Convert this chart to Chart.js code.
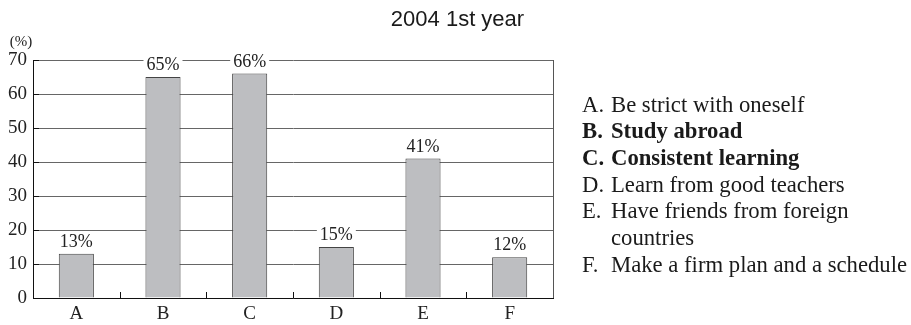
<!DOCTYPE html>
<html>
<head>
<meta charset="utf-8">
<script src="https://cdn.jsdelivr.net/npm/chart.js@4/dist/chart.umd.min.js"></script>
<style>
  html, body { margin: 0; padding: 0; background: #fff; }
  #wrap { width: 911px; height: 325px; position: relative; }
</style>
</head>
<body>
<div id="wrap"><canvas id="c" width="911" height="325"></canvas></div>
<script>
// Survey categories and their shares (%)
const categories = ['A', 'B', 'C', 'D', 'E', 'F'];
const shares = [13, 65, 66, 15, 41, 12];
const yTicks = [0, 10, 20, 30, 40, 50, 60, 70];
const chartTitle = '2004 1st year';

// Key shown to the right of the plot
const keyLetters = ['A.', 'B.', 'C.', 'D.', 'E.', 'F.'];
const keyTexts = [
  ['Be strict with oneself'],
  ['Study abroad'],
  ['Consistent learning'],
  ['Learn from good teachers'],
  ['Have friends from foreign', 'countries'],
  ['Make a firm plan and a schedule']
];
const keyBold = [false, true, true, false, false, false];

const SERIF = '"Liberation Serif", "Times New Roman", serif';
const SANS = '"Liberation Sans", Arial, sans-serif';
const INK = '#222';

// Frame details: title, inward tick marks, right border, unit label, bar value labels and the key
const decorations = {
  id: 'decorations',
  afterDatasetsDraw(chart) {
    const { ctx, chartArea: a, scales: { x, y } } = chart;
    ctx.save();

    // title, centred across the whole canvas
    ctx.fillStyle = '#1a1a1a';
    ctx.font = '22px ' + SANS;
    ctx.textAlign = 'center';
    ctx.textBaseline = 'alphabetic';
    ctx.fillText(chartTitle, chart.width / 2 + 2, 26);

    // right border of the plot
    ctx.strokeStyle = '#555';
    ctx.lineWidth = 1;
    ctx.beginPath();
    ctx.moveTo(Math.round(a.right) + 0.5, a.top);
    ctx.lineTo(Math.round(a.right) + 0.5, a.bottom);
    ctx.stroke();

    // short inward ticks on the value axis
    ctx.strokeStyle = '#111';
    ctx.beginPath();
    yTicks.forEach(v => {
      const py = Math.round(y.getPixelForValue(v)) + 0.5;
      ctx.moveTo(a.left, py);
      ctx.lineTo(a.left + 6, py);
    });
    // short upward ticks between categories
    for (let i = 0; i < categories.length - 1; i++) {
      const px = Math.round((x.getPixelForValue(i) + x.getPixelForValue(i + 1)) / 2) + 0.5;
      ctx.moveTo(px, a.bottom);
      ctx.lineTo(px, a.bottom - 6);
    }
    ctx.stroke();

    // unit label
    ctx.fillStyle = INK;
    ctx.font = '15px ' + SERIF;
    ctx.textAlign = 'center';
    ctx.textBaseline = 'middle';
    ctx.fillText('(%)', a.left - 12, a.top - 18);

    // value labels above bars, on a white patch that interrupts grid lines
    ctx.font = '18px ' + SERIF;
    ctx.textBaseline = 'alphabetic';
    const meta = chart.getDatasetMeta(0);
    meta.data.forEach((bar, i) => {
      const txt = shares[i] + '%';
      const w = ctx.measureText(txt).width;
      const base = bar.y - 7;
      ctx.fillStyle = '#fff';
      ctx.fillRect(bar.x - w / 2 - 3, base - 14, w + 6, 16);
      ctx.fillStyle = INK;
      ctx.fillText(txt, bar.x, base);
    });

    // key
    const letterX = a.right + 29;
    const textX = a.right + 58;
    let lineY = 106;
    const step = 26.6;
    ctx.textAlign = 'left';
    ctx.textBaseline = 'middle';
    keyLetters.forEach((letter, i) => {
      ctx.font = (keyBold[i] ? 'bold ' : '') + '22.7px ' + SERIF;
      ctx.fillStyle = '#1a1a1a';
      ctx.fillText(letter, letterX, lineY);
      keyTexts[i].forEach(line => {
        ctx.fillText(line, textX, lineY);
        lineY += step;
      });
    });

    ctx.restore();
  }
};

new Chart(document.getElementById('c'), {
  type: 'bar',
  data: {
    labels: categories,
    datasets: [{
      data: shares,
      backgroundColor: '#bdbec1',
      borderColor: '#444',
      borderWidth: 1,
      categoryPercentage: 1,
      barPercentage: 0.405
    }]
  },
  options: {
    responsive: false,
    animation: false,
    events: [],
    layout: { padding: { left: 0, right: 358, top: 60, bottom: 0 } },
    plugins: {
      legend: { display: false },
      tooltip: { enabled: false },
      title: { display: false }
    },
    scales: {
      x: {
        grid: { display: false, drawTicks: false },
        border: { display: true, color: '#111', width: 1 },
        ticks: { color: INK, font: { family: SERIF, size: 19 }, padding: 5 },
        afterFit(scale) { scale.height = 27; }
      },
      y: {
        min: 0,
        max: 70,
        afterBuildTicks(scale) { scale.ticks = yTicks.map(v => ({ value: v })); },
        grid: { color: '#666', lineWidth: 1, drawTicks: false },
        border: { display: true, color: '#111', width: 1 },
        ticks: { color: INK, font: { family: SERIF, size: 19 }, padding: 6 },
        afterFit(scale) { scale.width = 33; }
      }
    }
  },
  plugins: [decorations]
});
</script>
</body>
</html>
